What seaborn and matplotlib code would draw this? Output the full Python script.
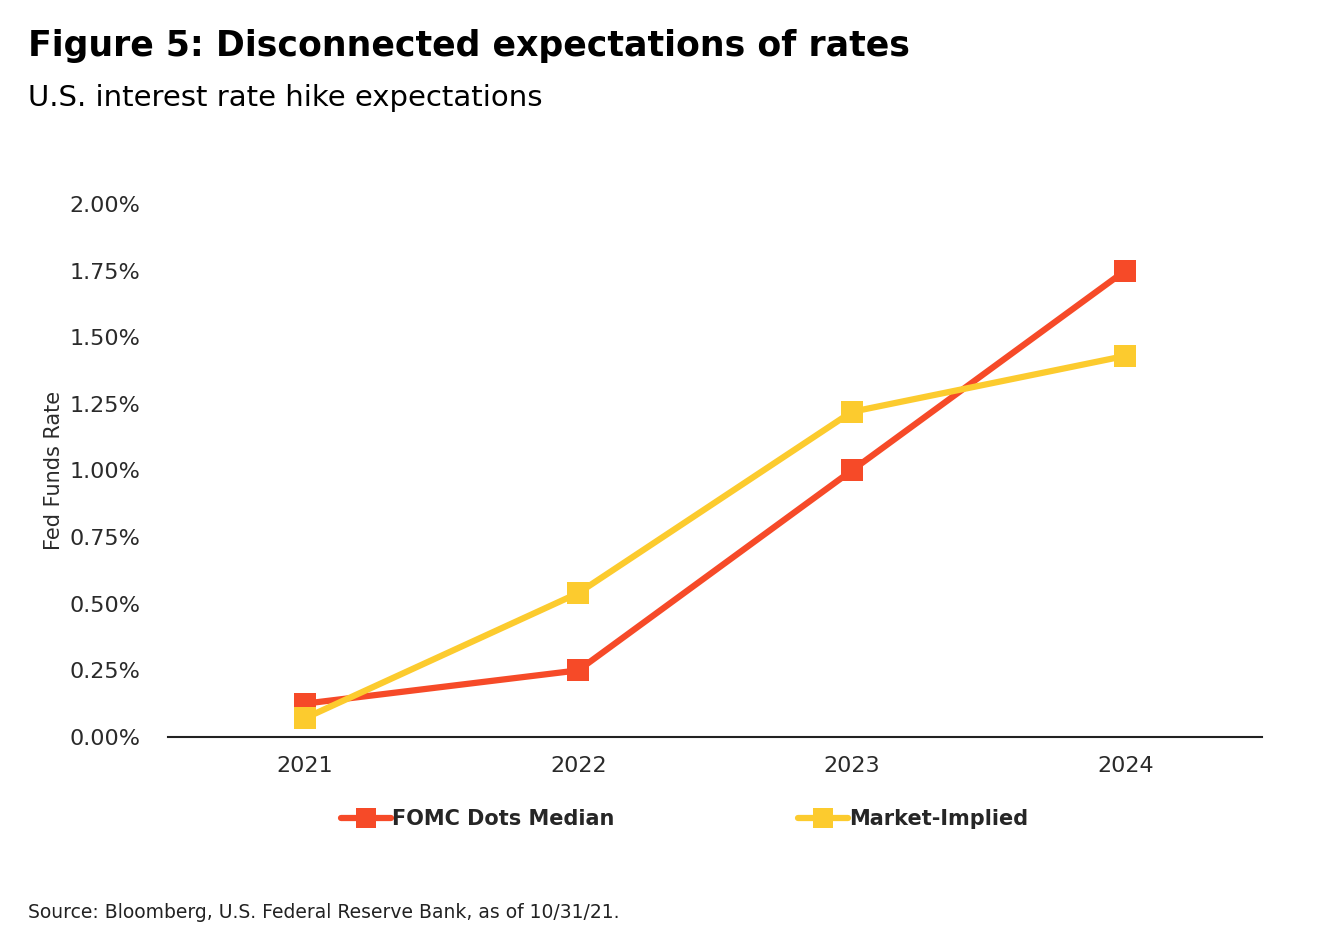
import pandas as pd
import matplotlib.pyplot as plt
import seaborn as sns

# Datos
years = ["2021", "2022", "2023", "2024"]
fomc_dots = [0.125, 0.25, 1.00, 1.75]
market_implied = [0.07, 0.54, 1.22, 1.43]
series_names = ["FOMC Dots Median", "Market-Implied"]
yticks = [0.0, 0.25, 0.5, 0.75, 1.0, 1.25, 1.5, 1.75, 2.0]

df = pd.DataFrame({
    "year": years * 2,
    "rate": fomc_dots + market_implied,
    "serie": [series_names[0]] * len(years) + [series_names[1]] * len(years),
})
df["pos"] = df["year"].map({y: i for i, y in enumerate(years)})

sns.set_style("white")
plt.rcParams["font.family"] = ["DejaVu Sans"]

colores = {series_names[0]: "#F64A28", series_names[1]: "#FCCB2E"}

fig = plt.figure(figsize=(13.44, 9.48), dpi=100)
ax = fig.add_axes([0.125, 0.2226, 0.814, 0.5622])

sns.lineplot(
    data=df, x="pos", y="rate", hue="serie", palette=colores,
    marker="s", markersize=16, markeredgewidth=0, linewidth=4.5,
    ax=ax, clip_on=False, hue_order=series_names,
)

ax.set_xlim(-0.5, 3.5)
ax.set_ylim(0, 2.0)
ax.set_xticks(range(len(years)))
ax.set_xticklabels(years)
ax.set_yticks(yticks)
ax.set_yticklabels([f"{v:.2f}%" for v in yticks])
ax.tick_params(axis="both", labelsize=16, colors="#2a2a2a", length=0, pad=14)
ax.tick_params(axis="y", pad=20)
ax.set_xlabel("")
ax.set_ylabel("Fed Funds Rate", fontsize=15, color="#2a2a2a", labelpad=4)
for s in ["top", "right", "left"]:
    ax.spines[s].set_visible(False)
ax.spines["bottom"].set_color("#222222")
ax.spines["bottom"].set_linewidth(1.5)

leg = ax.legend(
    loc="upper center", bbox_to_anchor=(0.472, -0.1), ncol=2, frameon=False,
    prop={"weight": "bold", "size": 15}, columnspacing=8.8,
    handlelength=2.4, handletextpad=0.05,
)
for h in leg.legend_handles:
    h.set_markersize(14)

fig.text(0.021, 0.952, "Figure 5: Disconnected expectations of rates",
         fontsize=25, fontweight="heavy", va="center", color="black")
fig.text(0.021, 0.897, "U.S. interest rate hike expectations",
         fontsize=21, va="center", color="black")
fig.text(0.021, 0.037, "Source: Bloomberg, U.S. Federal Reserve Bank, as of 10/31/21.",
         fontsize=13.5, va="center", color="#222222")

plt.savefig("out.png", dpi=100)
